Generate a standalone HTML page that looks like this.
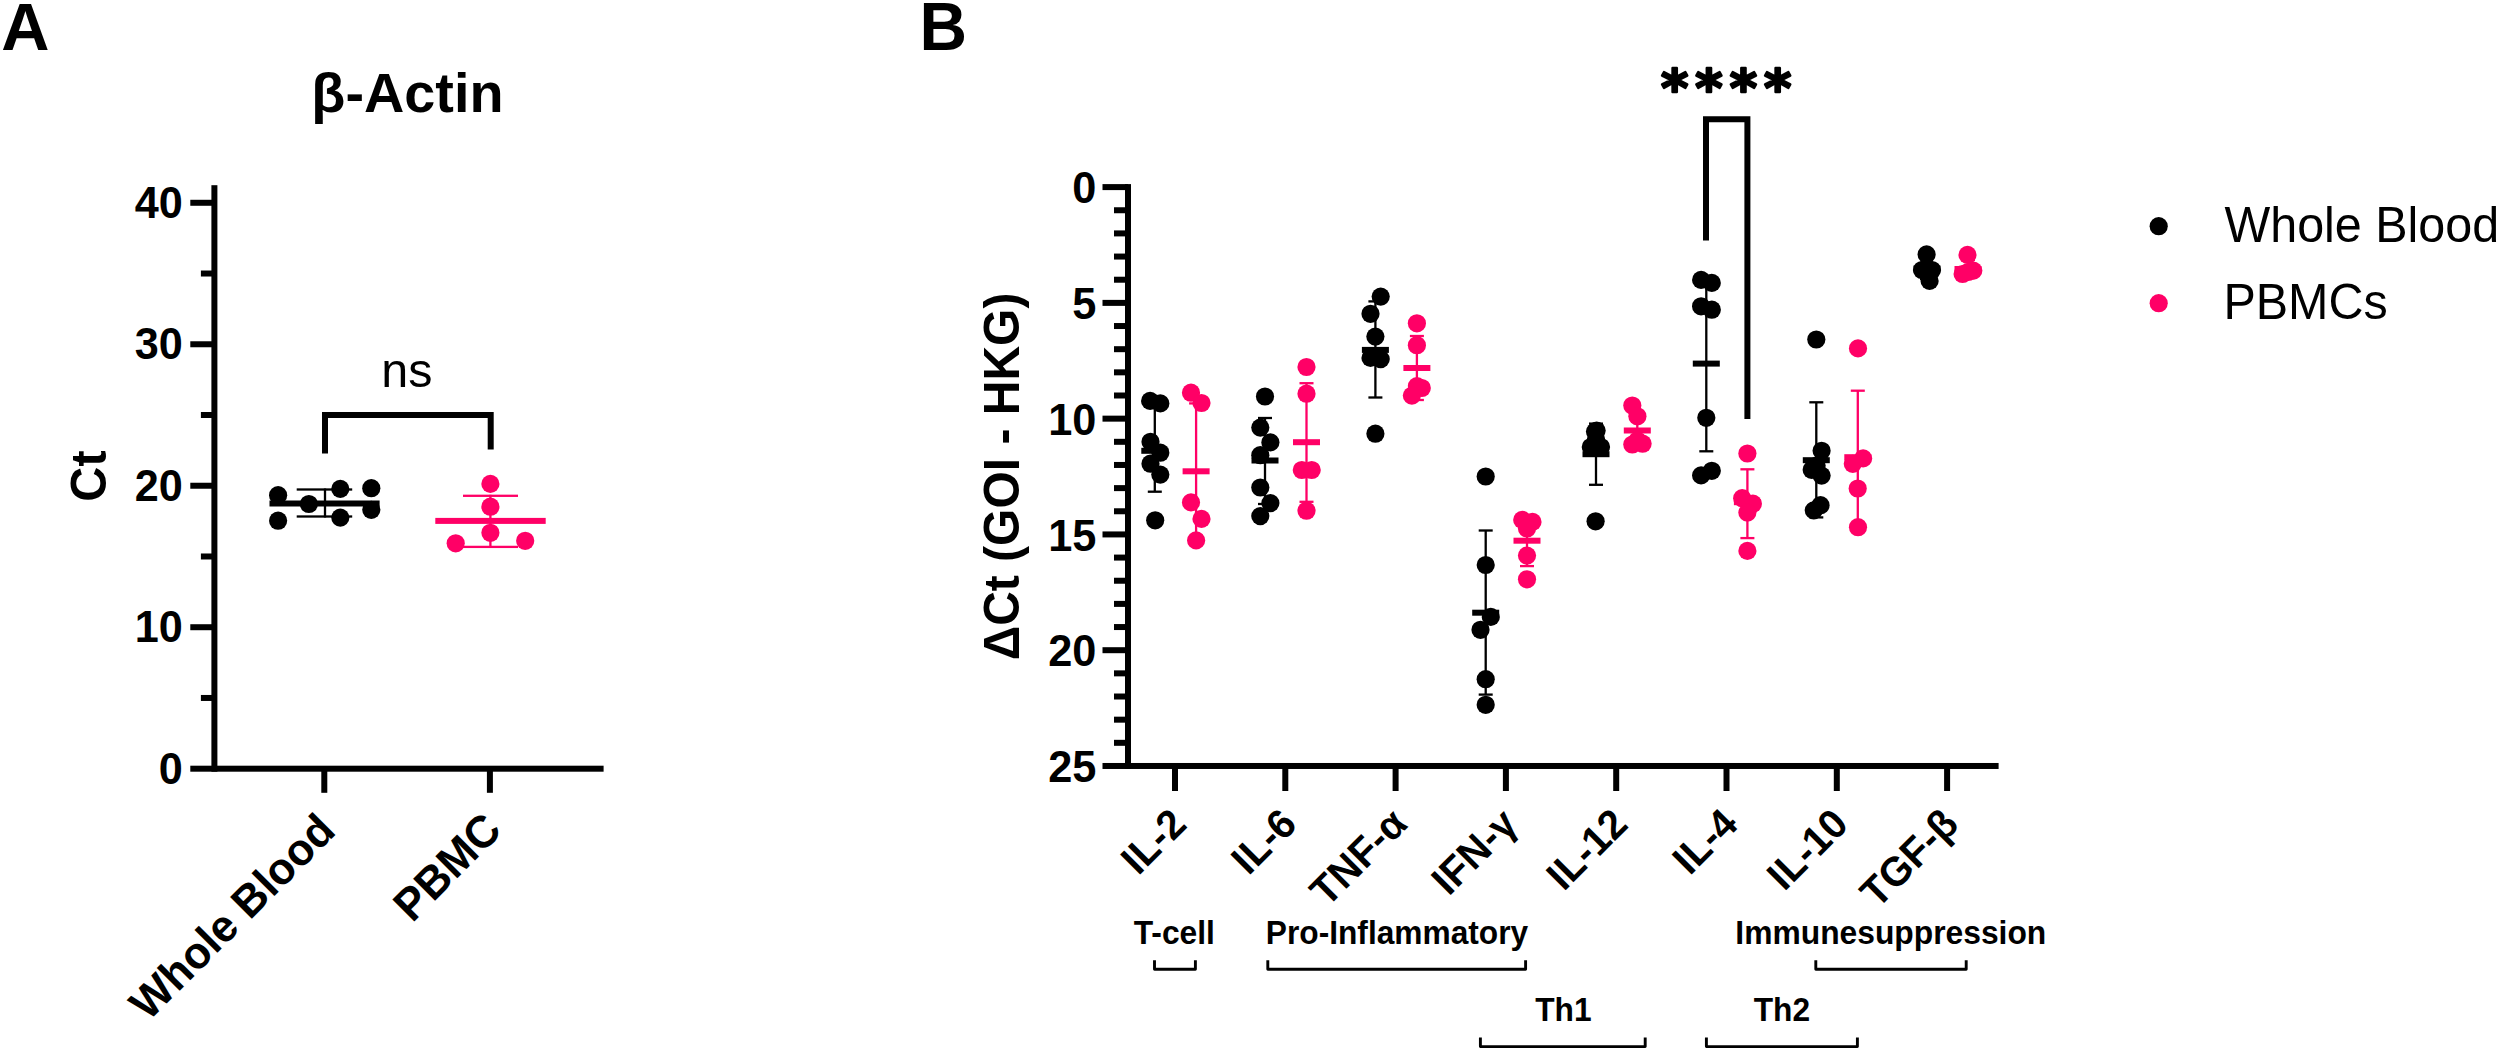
<!DOCTYPE html>
<html lang="en"><head><meta charset="utf-8"><title>Figure</title>
<style>
html,body{margin:0;padding:0;background:#fff;}
body{width:2500px;height:1051px;overflow:hidden;}
svg{display:block;font-family:"Liberation Sans",Arial,Helvetica,sans-serif;}
</style></head><body>
<svg width="2500" height="1051" viewBox="0 0 2500 1051">
<rect width="2500" height="1051" fill="#ffffff"/>
<text transform="translate(1.2,49.9) scale(1,1.01)" font-size="66.8" font-weight="bold" text-anchor="start" fill="#000000">A</text>
<text transform="translate(919.6,49.7) scale(1,1.03)" font-size="65.8" font-weight="bold" text-anchor="start" fill="#000000">B</text>
<rect x="211.40" y="185.20" width="6.00" height="586.50" fill="#000000"/>
<rect x="190.30" y="765.70" width="413.30" height="6.00" fill="#000000"/>
<rect x="190.30" y="624.22" width="24.10" height="6.00" fill="#000000"/>
<text transform="translate(182.7,642.22) scale(1,1.03)" font-size="43.2" font-weight="bold" text-anchor="end" fill="#000000">10</text>
<rect x="190.30" y="482.74" width="24.10" height="6.00" fill="#000000"/>
<text transform="translate(182.7,500.74) scale(1,1.03)" font-size="43.2" font-weight="bold" text-anchor="end" fill="#000000">20</text>
<rect x="190.30" y="341.26" width="24.10" height="6.00" fill="#000000"/>
<text transform="translate(182.7,359.26) scale(1,1.03)" font-size="43.2" font-weight="bold" text-anchor="end" fill="#000000">30</text>
<rect x="190.30" y="199.78" width="24.10" height="6.00" fill="#000000"/>
<text transform="translate(182.7,217.78) scale(1,1.03)" font-size="43.2" font-weight="bold" text-anchor="end" fill="#000000">40</text>
<text transform="translate(182.7,783.7) scale(1,1.03)" font-size="43.2" font-weight="bold" text-anchor="end" fill="#000000">0</text>
<rect x="200.90" y="694.96" width="13.50" height="6.00" fill="#000000"/>
<rect x="200.90" y="553.48" width="13.50" height="6.00" fill="#000000"/>
<rect x="200.90" y="412.00" width="13.50" height="6.00" fill="#000000"/>
<rect x="200.90" y="270.52" width="13.50" height="6.00" fill="#000000"/>
<rect x="321.30" y="768.70" width="6.00" height="24.10" fill="#000000"/>
<rect x="486.90" y="768.70" width="6.00" height="24.10" fill="#000000"/>
<text transform="translate(407.4,111.5)" font-size="55.8" font-weight="bold" text-anchor="middle" fill="#000000">β-Actin</text>
<text transform="translate(105.6,476) rotate(-90) scale(1,1.03)" font-size="48.6" font-weight="bold" text-anchor="middle" fill="#000000">Ct</text>
<text transform="translate(337.5,832.9) rotate(-45) scale(1,1.02)" font-size="43.8" font-weight="bold" text-anchor="end" fill="#000000">Whole Blood</text>
<text transform="translate(503.5,832.2) rotate(-45) scale(1,1.03)" font-size="43.8" font-weight="bold" text-anchor="end" fill="#000000">PBMC</text>
<path d="M325 453.6 V415 H490.7 V449.6" fill="none" stroke="#000000" stroke-width="6" stroke-linejoin="miter"/>
<text transform="translate(406.9,387) scale(1,0.98)" font-size="48.5" font-weight="normal" text-anchor="middle" fill="#000000">ns</text>
<rect x="296.70" y="488.35" width="55.50" height="2.30" fill="#000000"/>
<rect x="296.70" y="515.35" width="55.50" height="2.30" fill="#000000"/>
<rect x="323.85" y="488.50" width="2.30" height="29.00" fill="#000000"/>
<rect x="269.50" y="500.50" width="110.10" height="6.00" fill="#000000"/>
<circle cx="278.1" cy="495.2" r="9.1" fill="#000000"/>
<circle cx="278.1" cy="520.7" r="9.1" fill="#000000"/>
<circle cx="308.9" cy="504" r="9.1" fill="#000000"/>
<circle cx="340.3" cy="488.9" r="9.1" fill="#000000"/>
<circle cx="340.3" cy="517.6" r="9.1" fill="#000000"/>
<circle cx="371.3" cy="488.2" r="9.1" fill="#000000"/>
<circle cx="371.3" cy="509.8" r="9.1" fill="#000000"/>
<rect x="463.00" y="494.65" width="55.00" height="2.30" fill="#FF0066"/>
<rect x="463.00" y="545.75" width="55.00" height="2.30" fill="#FF0066"/>
<rect x="489.25" y="494.80" width="2.30" height="53.00" fill="#FF0066"/>
<rect x="435.30" y="517.90" width="110.40" height="6.00" fill="#FF0066"/>
<circle cx="490.4" cy="483.9" r="9.1" fill="#FF0066"/>
<circle cx="490.4" cy="506.7" r="9.1" fill="#FF0066"/>
<circle cx="490.4" cy="532.8" r="9.1" fill="#FF0066"/>
<circle cx="455.7" cy="543.3" r="9.1" fill="#FF0066"/>
<circle cx="525.2" cy="540.8" r="9.1" fill="#FF0066"/>
<rect x="1125.00" y="184.10" width="6.00" height="584.88" fill="#000000"/>
<rect x="1102.50" y="762.98" width="896.10" height="6.00" fill="#000000"/>
<rect x="1102.50" y="184.10" width="25.50" height="6.00" fill="#000000"/>
<text transform="translate(1096.4,203.3) scale(1,1.03)" font-size="43.3" font-weight="bold" text-anchor="end" fill="#000000">0</text>
<rect x="1114.00" y="207.25" width="14.00" height="6.00" fill="#000000"/>
<rect x="1114.00" y="230.41" width="14.00" height="6.00" fill="#000000"/>
<rect x="1114.00" y="253.56" width="14.00" height="6.00" fill="#000000"/>
<rect x="1114.00" y="276.72" width="14.00" height="6.00" fill="#000000"/>
<rect x="1102.50" y="299.88" width="25.50" height="6.00" fill="#000000"/>
<text transform="translate(1096.4,319.07) scale(1,1.03)" font-size="43.3" font-weight="bold" text-anchor="end" fill="#000000">5</text>
<rect x="1114.00" y="323.03" width="14.00" height="6.00" fill="#000000"/>
<rect x="1114.00" y="346.19" width="14.00" height="6.00" fill="#000000"/>
<rect x="1114.00" y="369.34" width="14.00" height="6.00" fill="#000000"/>
<rect x="1114.00" y="392.50" width="14.00" height="6.00" fill="#000000"/>
<rect x="1102.50" y="415.65" width="25.50" height="6.00" fill="#000000"/>
<text transform="translate(1096.4,434.85) scale(1,1.03)" font-size="43.3" font-weight="bold" text-anchor="end" fill="#000000">10</text>
<rect x="1114.00" y="438.81" width="14.00" height="6.00" fill="#000000"/>
<rect x="1114.00" y="461.96" width="14.00" height="6.00" fill="#000000"/>
<rect x="1114.00" y="485.12" width="14.00" height="6.00" fill="#000000"/>
<rect x="1114.00" y="508.27" width="14.00" height="6.00" fill="#000000"/>
<rect x="1102.50" y="531.43" width="25.50" height="6.00" fill="#000000"/>
<text transform="translate(1096.4,550.63) scale(1,1.03)" font-size="43.3" font-weight="bold" text-anchor="end" fill="#000000">15</text>
<rect x="1114.00" y="554.58" width="14.00" height="6.00" fill="#000000"/>
<rect x="1114.00" y="577.74" width="14.00" height="6.00" fill="#000000"/>
<rect x="1114.00" y="600.89" width="14.00" height="6.00" fill="#000000"/>
<rect x="1114.00" y="624.05" width="14.00" height="6.00" fill="#000000"/>
<rect x="1102.50" y="647.20" width="25.50" height="6.00" fill="#000000"/>
<text transform="translate(1096.4,666.4) scale(1,1.03)" font-size="43.3" font-weight="bold" text-anchor="end" fill="#000000">20</text>
<rect x="1114.00" y="670.36" width="14.00" height="6.00" fill="#000000"/>
<rect x="1114.00" y="693.51" width="14.00" height="6.00" fill="#000000"/>
<rect x="1114.00" y="716.67" width="14.00" height="6.00" fill="#000000"/>
<rect x="1114.00" y="739.82" width="14.00" height="6.00" fill="#000000"/>
<text transform="translate(1096.4,782.18) scale(1,1.03)" font-size="43.3" font-weight="bold" text-anchor="end" fill="#000000">25</text>
<rect x="1172.00" y="765.98" width="6.00" height="25.02" fill="#000000"/>
<rect x="1282.30" y="765.98" width="6.00" height="25.02" fill="#000000"/>
<rect x="1392.60" y="765.98" width="6.00" height="25.02" fill="#000000"/>
<rect x="1502.90" y="765.98" width="6.00" height="25.02" fill="#000000"/>
<rect x="1613.20" y="765.98" width="6.00" height="25.02" fill="#000000"/>
<rect x="1723.50" y="765.98" width="6.00" height="25.02" fill="#000000"/>
<rect x="1833.80" y="765.98" width="6.00" height="25.02" fill="#000000"/>
<rect x="1944.10" y="765.98" width="6.00" height="25.02" fill="#000000"/>
<text transform="translate(1188.5,826.2) rotate(-45) scale(1,1.03)" font-size="40" font-weight="bold" text-anchor="end" fill="#000000">IL-2</text>
<text transform="translate(1298.8,826.2) rotate(-45) scale(1,1.03)" font-size="40" font-weight="bold" text-anchor="end" fill="#000000">IL-6</text>
<text transform="translate(1409.1,826.2) rotate(-45) scale(1,1.03)" font-size="40" font-weight="bold" text-anchor="end" fill="#000000">TNF-α</text>
<text transform="translate(1519.4,826.2) rotate(-45) scale(1,1.03)" font-size="40" font-weight="bold" text-anchor="end" fill="#000000">IFN-γ</text>
<text transform="translate(1629.7,826.2) rotate(-45) scale(1,1.03)" font-size="40" font-weight="bold" text-anchor="end" fill="#000000">IL-12</text>
<text transform="translate(1740.0,826.2) rotate(-45) scale(1,1.03)" font-size="40" font-weight="bold" text-anchor="end" fill="#000000">IL-4</text>
<text transform="translate(1850.3,826.2) rotate(-45) scale(1,1.03)" font-size="40" font-weight="bold" text-anchor="end" fill="#000000">IL-10</text>
<text transform="translate(1960.6,826.2) rotate(-45) scale(1,1.03)" font-size="40" font-weight="bold" text-anchor="end" fill="#000000">TGF-β</text>
<text transform="translate(1019.4,476.5) rotate(-90) scale(1,1.03)" font-size="48" font-weight="bold" text-anchor="middle" fill="#000000">ΔCt (GOI - HKG)</text>
<rect x="1147.80" y="405.85" width="14.00" height="2.30" fill="#000000"/>
<rect x="1147.80" y="490.55" width="14.00" height="2.30" fill="#000000"/>
<rect x="1153.65" y="407.00" width="2.30" height="84.70" fill="#000000"/>
<rect x="1141.30" y="447.80" width="27.00" height="6.00" fill="#000000"/>
<circle cx="1150.1" cy="400.9" r="9.1" fill="#000000"/>
<circle cx="1160.3" cy="403.4" r="9.1" fill="#000000"/>
<circle cx="1150.5" cy="441.8" r="9.1" fill="#000000"/>
<circle cx="1160.3" cy="452.7" r="9.1" fill="#000000"/>
<circle cx="1150.5" cy="463.7" r="9.1" fill="#000000"/>
<circle cx="1160.3" cy="474.6" r="9.1" fill="#000000"/>
<circle cx="1155.2" cy="520.3" r="9.1" fill="#000000"/>
<rect x="1189.10" y="402.25" width="14.00" height="2.30" fill="#FF0066"/>
<rect x="1189.10" y="538.05" width="14.00" height="2.30" fill="#FF0066"/>
<rect x="1194.95" y="403.40" width="2.30" height="135.80" fill="#FF0066"/>
<rect x="1182.60" y="468.30" width="27.00" height="6.00" fill="#FF0066"/>
<circle cx="1191" cy="392.7" r="9.1" fill="#FF0066"/>
<circle cx="1201.5" cy="403" r="9.1" fill="#FF0066"/>
<circle cx="1191" cy="502.4" r="9.1" fill="#FF0066"/>
<circle cx="1201.5" cy="518.9" r="9.1" fill="#FF0066"/>
<circle cx="1196.1" cy="540.4" r="9.1" fill="#FF0066"/>
<rect x="1258.00" y="416.85" width="14.00" height="2.30" fill="#000000"/>
<rect x="1258.00" y="502.85" width="14.00" height="2.30" fill="#000000"/>
<rect x="1263.85" y="418.00" width="2.30" height="86.00" fill="#000000"/>
<rect x="1251.50" y="457.50" width="27.00" height="6.00" fill="#000000"/>
<circle cx="1265" cy="396.5" r="9.1" fill="#000000"/>
<circle cx="1260.3" cy="427.6" r="9.1" fill="#000000"/>
<circle cx="1270.4" cy="442.4" r="9.1" fill="#000000"/>
<circle cx="1260.3" cy="455.2" r="9.1" fill="#000000"/>
<circle cx="1260.3" cy="487.5" r="9.1" fill="#000000"/>
<circle cx="1270.4" cy="503.1" r="9.1" fill="#000000"/>
<circle cx="1260.3" cy="516.1" r="9.1" fill="#000000"/>
<rect x="1299.50" y="382.05" width="14.00" height="2.30" fill="#FF0066"/>
<rect x="1299.50" y="500.65" width="14.00" height="2.30" fill="#FF0066"/>
<rect x="1305.35" y="383.20" width="2.30" height="118.60" fill="#FF0066"/>
<rect x="1293.00" y="439.20" width="27.00" height="6.00" fill="#FF0066"/>
<circle cx="1306.5" cy="367" r="9.1" fill="#FF0066"/>
<circle cx="1306.5" cy="393.7" r="9.1" fill="#FF0066"/>
<circle cx="1301.8" cy="470" r="9.1" fill="#FF0066"/>
<circle cx="1311.7" cy="470" r="9.1" fill="#FF0066"/>
<circle cx="1306.5" cy="510.7" r="9.1" fill="#FF0066"/>
<rect x="1368.40" y="300.25" width="14.00" height="2.30" fill="#000000"/>
<rect x="1368.40" y="396.35" width="14.00" height="2.30" fill="#000000"/>
<rect x="1374.25" y="301.40" width="2.30" height="96.10" fill="#000000"/>
<rect x="1361.90" y="346.90" width="27.00" height="6.00" fill="#000000"/>
<circle cx="1380.7" cy="296.6" r="9.1" fill="#000000"/>
<circle cx="1370.5" cy="313.8" r="9.1" fill="#000000"/>
<circle cx="1375.4" cy="336.6" r="9.1" fill="#000000"/>
<circle cx="1370.5" cy="357.9" r="9.1" fill="#000000"/>
<circle cx="1380.7" cy="359.1" r="9.1" fill="#000000"/>
<circle cx="1375.4" cy="433.7" r="9.1" fill="#000000"/>
<rect x="1409.90" y="334.85" width="14.00" height="2.30" fill="#FF0066"/>
<rect x="1409.90" y="398.85" width="14.00" height="2.30" fill="#FF0066"/>
<rect x="1415.75" y="336.00" width="2.30" height="64.00" fill="#FF0066"/>
<rect x="1403.40" y="365.00" width="27.00" height="6.00" fill="#FF0066"/>
<circle cx="1416.9" cy="323.3" r="9.1" fill="#FF0066"/>
<circle cx="1416.9" cy="345.2" r="9.1" fill="#FF0066"/>
<circle cx="1421.8" cy="388" r="9.1" fill="#FF0066"/>
<circle cx="1416.9" cy="386.1" r="9.1" fill="#FF0066"/>
<circle cx="1411.9" cy="395.6" r="9.1" fill="#FF0066"/>
<rect x="1478.70" y="529.35" width="14.00" height="2.30" fill="#000000"/>
<rect x="1478.70" y="693.45" width="14.00" height="2.30" fill="#000000"/>
<rect x="1484.55" y="530.50" width="2.30" height="164.10" fill="#000000"/>
<rect x="1472.20" y="609.70" width="27.00" height="6.00" fill="#000000"/>
<circle cx="1485.7" cy="476.5" r="9.1" fill="#000000"/>
<circle cx="1485.7" cy="565" r="9.1" fill="#000000"/>
<circle cx="1490.8" cy="616.9" r="9.1" fill="#000000"/>
<circle cx="1480.5" cy="629.8" r="9.1" fill="#000000"/>
<circle cx="1485.7" cy="679.2" r="9.1" fill="#000000"/>
<circle cx="1485.7" cy="704.8" r="9.1" fill="#000000"/>
<rect x="1520.00" y="514.15" width="14.00" height="2.30" fill="#FF0066"/>
<rect x="1520.00" y="564.95" width="14.00" height="2.30" fill="#FF0066"/>
<rect x="1525.85" y="515.30" width="2.30" height="50.80" fill="#FF0066"/>
<rect x="1513.50" y="537.70" width="27.00" height="6.00" fill="#FF0066"/>
<circle cx="1522.2" cy="519.9" r="9.1" fill="#FF0066"/>
<circle cx="1532.5" cy="521.9" r="9.1" fill="#FF0066"/>
<circle cx="1527" cy="528.5" r="9.1" fill="#FF0066"/>
<circle cx="1527" cy="555.6" r="9.1" fill="#FF0066"/>
<circle cx="1527" cy="579.3" r="9.1" fill="#FF0066"/>
<rect x="1589.00" y="422.45" width="14.00" height="2.30" fill="#000000"/>
<rect x="1589.00" y="483.65" width="14.00" height="2.30" fill="#000000"/>
<rect x="1594.85" y="423.60" width="2.30" height="61.20" fill="#000000"/>
<rect x="1582.50" y="451.20" width="27.00" height="6.00" fill="#000000"/>
<circle cx="1595" cy="431.6" r="9.1" fill="#000000"/>
<circle cx="1596.6" cy="430.6" r="9.1" fill="#000000"/>
<circle cx="1596" cy="439" r="9.1" fill="#000000"/>
<circle cx="1590.8" cy="447" r="9.1" fill="#000000"/>
<circle cx="1601" cy="447" r="9.1" fill="#000000"/>
<circle cx="1595.6" cy="521.3" r="9.1" fill="#000000"/>
<rect x="1630.30" y="410.85" width="14.00" height="2.30" fill="#FF0066"/>
<rect x="1630.30" y="447.85" width="14.00" height="2.30" fill="#FF0066"/>
<rect x="1636.15" y="412.00" width="2.30" height="37.00" fill="#FF0066"/>
<rect x="1623.80" y="427.50" width="27.00" height="6.00" fill="#FF0066"/>
<circle cx="1632.3" cy="405.5" r="9.1" fill="#FF0066"/>
<circle cx="1637.4" cy="416.3" r="9.1" fill="#FF0066"/>
<circle cx="1632.3" cy="444.5" r="9.1" fill="#FF0066"/>
<circle cx="1642.6" cy="443.7" r="9.1" fill="#FF0066"/>
<circle cx="1637.4" cy="440.5" r="9.1" fill="#FF0066"/>
<rect x="1699.30" y="274.75" width="14.00" height="2.30" fill="#000000"/>
<rect x="1699.30" y="450.15" width="14.00" height="2.30" fill="#000000"/>
<rect x="1705.15" y="275.90" width="2.30" height="175.40" fill="#000000"/>
<rect x="1692.80" y="360.60" width="27.00" height="6.00" fill="#000000"/>
<circle cx="1701.1" cy="279.9" r="9.1" fill="#000000"/>
<circle cx="1711.8" cy="282.9" r="9.1" fill="#000000"/>
<circle cx="1701.1" cy="306.3" r="9.1" fill="#000000"/>
<circle cx="1711.8" cy="309.7" r="9.1" fill="#000000"/>
<circle cx="1706.3" cy="417.8" r="9.1" fill="#000000"/>
<circle cx="1701.1" cy="475.4" r="9.1" fill="#000000"/>
<circle cx="1711.8" cy="470.8" r="9.1" fill="#000000"/>
<rect x="1740.40" y="468.15" width="14.00" height="2.30" fill="#FF0066"/>
<rect x="1740.40" y="536.95" width="14.00" height="2.30" fill="#FF0066"/>
<rect x="1746.25" y="469.30" width="2.30" height="68.80" fill="#FF0066"/>
<rect x="1733.90" y="499.20" width="27.00" height="6.00" fill="#FF0066"/>
<circle cx="1747.4" cy="453.5" r="9.1" fill="#FF0066"/>
<circle cx="1742.2" cy="498.2" r="9.1" fill="#FF0066"/>
<circle cx="1752.9" cy="503.7" r="9.1" fill="#FF0066"/>
<circle cx="1747.4" cy="512.6" r="9.1" fill="#FF0066"/>
<circle cx="1747.4" cy="550.9" r="9.1" fill="#FF0066"/>
<rect x="1809.30" y="401.15" width="14.00" height="2.30" fill="#000000"/>
<rect x="1809.30" y="516.25" width="14.00" height="2.30" fill="#000000"/>
<rect x="1815.15" y="402.30" width="2.30" height="115.10" fill="#000000"/>
<rect x="1802.80" y="457.20" width="27.00" height="6.00" fill="#000000"/>
<circle cx="1816.3" cy="339.5" r="9.1" fill="#000000"/>
<circle cx="1821.6" cy="450.8" r="9.1" fill="#000000"/>
<circle cx="1816.6" cy="465.7" r="9.1" fill="#000000"/>
<circle cx="1811.7" cy="469.8" r="9.1" fill="#000000"/>
<circle cx="1821.6" cy="475.6" r="9.1" fill="#000000"/>
<circle cx="1820.5" cy="505.2" r="9.1" fill="#000000"/>
<circle cx="1813.8" cy="510.4" r="9.1" fill="#000000"/>
<rect x="1850.80" y="389.55" width="14.00" height="2.30" fill="#FF0066"/>
<rect x="1850.80" y="522.55" width="14.00" height="2.30" fill="#FF0066"/>
<rect x="1856.65" y="390.70" width="2.30" height="133.00" fill="#FF0066"/>
<rect x="1844.30" y="454.20" width="27.00" height="6.00" fill="#FF0066"/>
<circle cx="1858" cy="348.4" r="9.1" fill="#FF0066"/>
<circle cx="1863.1" cy="458.4" r="9.1" fill="#FF0066"/>
<circle cx="1852.8" cy="463.8" r="9.1" fill="#FF0066"/>
<circle cx="1857.7" cy="488.5" r="9.1" fill="#FF0066"/>
<circle cx="1858" cy="527.2" r="9.1" fill="#FF0066"/>
<rect x="1920.00" y="256.85" width="14.00" height="2.30" fill="#000000"/>
<rect x="1920.00" y="277.85" width="14.00" height="2.30" fill="#000000"/>
<rect x="1925.85" y="258.00" width="2.30" height="21.00" fill="#000000"/>
<rect x="1913.50" y="265.50" width="27.00" height="6.00" fill="#000000"/>
<circle cx="1926.6" cy="254.4" r="9.1" fill="#000000"/>
<circle cx="1922" cy="270" r="9.1" fill="#000000"/>
<circle cx="1932" cy="270" r="9.1" fill="#000000"/>
<circle cx="1926.6" cy="268" r="9.1" fill="#000000"/>
<circle cx="1929.6" cy="280.9" r="9.1" fill="#000000"/>
<rect x="1961.00" y="258.85" width="14.00" height="2.30" fill="#FF0066"/>
<rect x="1961.00" y="276.85" width="14.00" height="2.30" fill="#FF0066"/>
<rect x="1966.85" y="260.00" width="2.30" height="18.00" fill="#FF0066"/>
<rect x="1954.50" y="266.00" width="27.00" height="6.00" fill="#FF0066"/>
<circle cx="1967.5" cy="254.9" r="9.1" fill="#FF0066"/>
<circle cx="1962.6" cy="274" r="9.1" fill="#FF0066"/>
<circle cx="1973.3" cy="270.6" r="9.1" fill="#FF0066"/>
<circle cx="1968" cy="272" r="9.1" fill="#FF0066"/>
<path d="M1706 240.6 V119.2 H1747.4 V419" fill="none" stroke="#000000" stroke-width="6" stroke-linejoin="miter"/>
<text transform="translate(1661.05,105.9)" font-size="52.3" font-weight="bold" text-anchor="start" fill="#000000" font-family="'DejaVu Sans', sans-serif" letter-spacing="6.95" stroke="#000" stroke-width="2.4" stroke-linejoin="round">****</text>
<circle cx="2158.7" cy="226.2" r="9.1" fill="#000000"/>
<circle cx="2158.7" cy="303.2" r="9.1" fill="#FF0066"/>
<text transform="translate(2224.5,241.9) scale(1,1.02)" font-size="48.45" font-weight="normal" text-anchor="start" fill="#000000">Whole Blood</text>
<text transform="translate(2223.5,319) scale(1,1.03)" font-size="48.45" font-weight="normal" text-anchor="start" fill="#000000">PBMCs</text>
<text transform="translate(1174.3,943.6) scale(1,1.03)" font-size="31.8" font-weight="bold" text-anchor="middle" fill="#000000">T-cell</text>
<path d="M1154.5 960.2 V969.3 H1195.4 V960.2" fill="none" stroke="#000000" stroke-width="2.9" stroke-linejoin="round"/>
<text transform="translate(1397,943.6) scale(1,1.02)" font-size="31.7" font-weight="bold" text-anchor="middle" fill="#000000">Pro-Inflammatory</text>
<path d="M1267.8 960.2 V969.3 H1525.6 V960.2" fill="none" stroke="#000000" stroke-width="2.9" stroke-linejoin="round"/>
<text transform="translate(1890.8,943.6) scale(1,1.02)" font-size="31.8" font-weight="bold" text-anchor="middle" fill="#000000">Immunesuppression</text>
<path d="M1815.8 960.2 V969.3 H1966.2 V960.2" fill="none" stroke="#000000" stroke-width="2.9" stroke-linejoin="round"/>
<text transform="translate(1563.4,1021) scale(1,1.03)" font-size="31.7" font-weight="bold" text-anchor="middle" fill="#000000">Th1</text>
<path d="M1480.4 1037.4 V1046.6 H1645.2 V1037.4" fill="none" stroke="#000000" stroke-width="2.9" stroke-linejoin="round"/>
<text transform="translate(1781.9,1021) scale(1,1.03)" font-size="31.7" font-weight="bold" text-anchor="middle" fill="#000000">Th2</text>
<path d="M1706.4 1037.4 V1046.6 H1857.4 V1037.4" fill="none" stroke="#000000" stroke-width="2.9" stroke-linejoin="round"/>
</svg>
</body></html>
